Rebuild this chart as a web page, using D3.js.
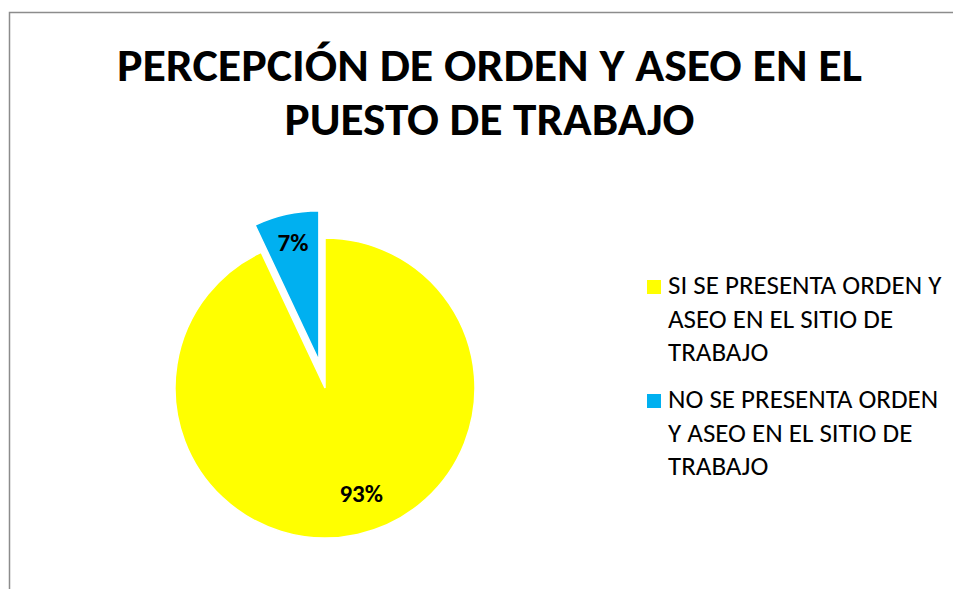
<!DOCTYPE html>
<html><head><meta charset="utf-8">
<script src="https://cdn.jsdelivr.net/npm/d3@7"></script>
<style>html,body{margin:0;padding:0;background:#fff;}svg{display:block;}</style>
</head><body>
<script>
const categories = ["SI SE PRESENTA ORDEN Y ASEO EN EL SITIO DE TRABAJO", "NO SE PRESENTA ORDEN Y ASEO EN EL SITIO DE TRABAJO"];
const values = [93, 7];
const labels = ["93%", "7%"];
const colors = ["#FFFF00", "#00B0F0"];
const titleLines = ["PERCEPCIÓN DE ORDEN Y ASEO EN EL", "PUESTO DE TRABAJO"];
const legendLines = [["SI SE PRESENTA ORDEN Y", "ASEO EN EL SITIO DE", "TRABAJO"], ["NO SE PRESENTA ORDEN", "Y ASEO EN EL SITIO DE", "TRABAJO"]];

const W = 953, H = 589;
const svg = d3.select("body").append("svg").attr("width", W).attr("height", H);
const font = "Carlito, Calibri, 'Liberation Sans', Arial, sans-serif";

svg.append("rect").attr("x", 9.5).attr("y", 12.5).attr("width", 960).attr("height", 600)
  .attr("fill", "#fff").attr("stroke", "#8c8c8c").attr("stroke-width", 1.5);

function fitText(sel, target) {
  const len = sel.node().getComputedTextLength();
  if (Math.abs(len - target) > 2) sel.attr("textLength", target).attr("lengthAdjust", "spacingAndGlyphs");
}

// Title
const titleY = [81, 135], titleW = [745, 410];
titleLines.forEach((t, i) => {
  const tx = svg.append("text").attr("x", 489.5).attr("y", titleY[i]).attr("text-anchor", "middle")
    .attr("font-family", font).attr("font-weight", "bold").attr("font-size", 46).attr("fill", "#000").text(t);
  fitText(tx, titleW[i]);
});

// Pie
const cx = 325, cy = 388, r = 150, explode = 28;
const pie = d3.pie().sort(null).value(d => d)(values);
const arc = d3.arc().innerRadius(0).outerRadius(r);
const labelR = [0.74, 0.79];
const g = svg.append("g").attr("transform", `translate(${cx},${cy})`);
pie.forEach((p, i) => {
  const mid = (p.startAngle + p.endAngle) / 2;
  const off = i === 1 ? explode : 0;
  const dx = Math.sin(mid) * off, dy = -Math.cos(mid) * off;
  const sg = g.append("g").attr("transform", `translate(${dx},${dy})`);
  sg.append("path").attr("d", arc(p)).attr("fill", colors[i]).attr("stroke", "#fff").attr("stroke-width", 1.5);
  const la = d3.arc().innerRadius(r * labelR[i]).outerRadius(r * labelR[i]);
  const c = la.centroid(p);
  sg.append("text").attr("x", c[0] + (i === 0 ? 12 : 0)).attr("y", c[1] + 6).attr("text-anchor", "middle")
    .attr("font-family", font).attr("font-weight", "bold").attr("font-size", 25).attr("fill", "#000").text(labels[i]);
});

// Legend
const legY = [294, 408], lineH = 33.5;
legendLines.forEach((lines, i) => {
  svg.append("rect").attr("x", 647).attr("y", legY[i] - 14).attr("width", 14).attr("height", 14).attr("fill", colors[i]);
  lines.forEach((t, j) => {
    svg.append("text").attr("x", 668).attr("y", legY[i] + j * lineH)
      .attr("font-family", font).attr("font-size", 27).attr("fill", "#000").text(t);
  });
});
</script>
</body></html>
